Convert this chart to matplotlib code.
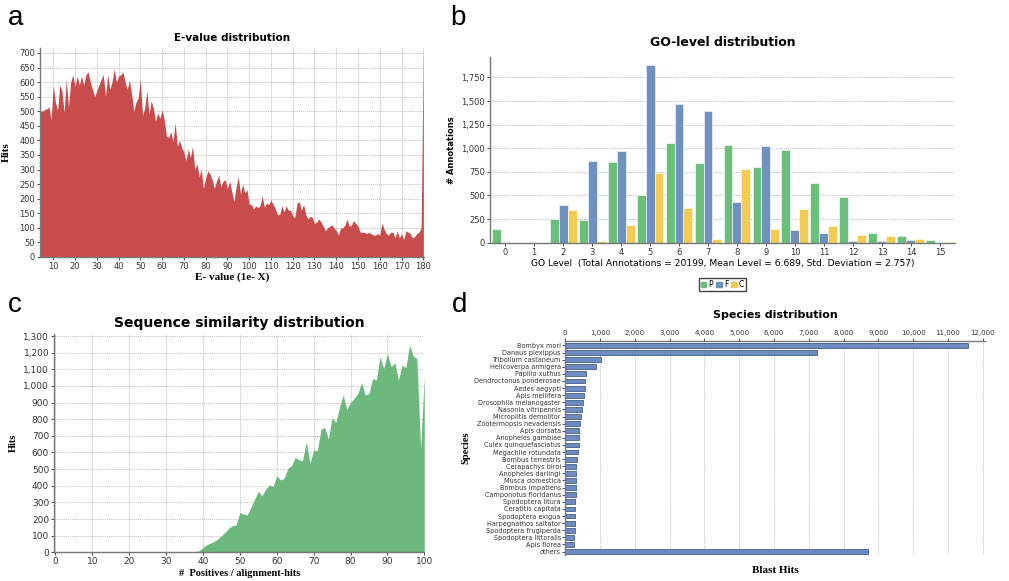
import matplotlib
matplotlib.use("Agg")
import matplotlib.pyplot as plt
from matplotlib.ticker import FuncFormatter
from matplotlib.patches import Patch
import numpy as np

# a: E-value distribution
evalue_x = list(range(4, 181))
evalue_hits = [502, 500, 505, 508, 515, 470, 590, 530, 505, 590, 570, 495, 610, 515, 600, 625,
               585, 620, 590, 620, 590, 625, 635, 600, 575, 550, 570, 590, 610, 625, 550, 625,
               575, 600, 645, 600, 620, 625, 635, 600, 575, 605, 560, 500, 530, 545, 610, 485,
               510, 570, 490, 535, 510, 465, 495, 475, 505, 470, 415, 410, 430, 395, 460, 380,
               400, 375, 360, 330, 370, 340, 380, 300, 320, 275, 300, 235, 270, 295, 285, 265,
               235, 260, 280, 240, 260, 265, 235, 260, 225, 190, 240, 275, 215, 250, 220, 230,
               180, 180, 165, 175, 170, 175, 210, 170, 185, 180, 195, 180, 165, 145, 145, 175,
               155, 175, 160, 160, 140, 135, 185, 190, 160, 180, 145, 130, 140, 135, 115, 120,
               130, 120, 105, 90, 100, 105, 110, 100, 90, 75, 100, 100, 110, 130, 105, 110,
               125, 115, 105, 85, 85, 85, 80, 85, 80, 75, 75, 80, 75, 115, 95, 80,
               75, 85, 85, 65, 90, 65, 80, 60, 90, 85, 80, 65, 70, 80, 85, 100, 715]

# b: GO-level distribution
go_levels = list(range(16))
go_P = [150, 0, 250, 235, 855, 500, 1060, 840, 1040, 800, 980, 635, 480, 100, 75, 30]
go_F = [0, 0, 400, 870, 970, 1880, 1470, 1400, 430, 1020, 130, 100, 20, 20, 30, 0]
go_C = [0, 0, 345, 20, 185, 735, 365, 40, 780, 145, 355, 175, 85, 75, 40, 5]

# c: sequence similarity distribution
sim_x = list(range(36, 101))
sim_hits = [0, 0, 5, 10, 30, 45, 55, 65, 80, 100, 120, 145, 160, 165, 240, 230, 225, 270,
            320, 365, 340, 380, 405, 395, 460, 435, 445, 505, 520, 570, 555, 550, 665, 535,
            615, 610, 740, 750, 680, 810, 780, 870, 945, 860, 900, 925, 955, 1020, 945, 955,
            1045, 1035, 1175, 1105, 1195, 1115, 1140, 1035, 1125, 1110, 1245, 1180, 1165, 620, 1060]

# d: species distribution
species = ["Bombyx mori", "Danaus plexippus", "Tribolium castaneum", "Helicoverpa armigera",
           "Papilio xuthus", "Dendroctonus ponderosae", "Aedes aegypti", "Apis mellifera",
           "Drosophila melanogaster", "Nasonia vitripennis", "Microplitis demolitor",
           "Zootermopsis nevadensis", "Apis dorsata", "Anopheles gambiae",
           "Culex quinquefasciatus", "Megachile rotundata", "Bombus terrestris",
           "Cerapachys biroi", "Anopheles darlingi", "Musca domestica", "Bombus impatiens",
           "Camponotus floridanus", "Spodoptera litura", "Ceratitis capitata",
           "Spodoptera exigua", "Harpegnathos saltator", "Spodoptera frugiperda",
           "Spodoptera littoralis", "Apis florea", "others"]
species_hits = [11580, 7240, 1040, 900, 590, 570, 560, 540, 520, 500, 460, 430, 410, 405,
                390, 370, 330, 328, 320, 318, 316, 314, 300, 298, 296, 294, 285, 268, 265, 8700]

comma = FuncFormatter(lambda v, p: "{:,.0f}".format(v))
grid_kw = dict(color="#bdbdbd", linestyle=(0, (1, 1)), linewidth=0.7)
serif = ["Liberation Serif", "DejaVu Serif"]

fig = plt.figure(figsize=(10.09, 5.81), dpi=100)

def style(ax):
    ax.tick_params(labelsize=6, length=2, width=0.6, colors="#333333", pad=1.5)
    for s in ax.spines.values():
        s.set_color("#777777")
        s.set_linewidth(1.0)
    ax.set_axisbelow(True)

# ---- a ----
ax = fig.add_axes([0.0396, 0.5577, 0.3806, 0.3602])
ax.fill_between(evalue_x, evalue_hits, color="#c94c4c", linewidth=0)
ax.set_xlim(3.9, 180.3)
ax.set_ylim(0, 718)
ax.set_xticks(range(10, 181, 10))
ax.set_yticks(range(0, 701, 50))
ax.grid(True, **grid_kw)
style(ax)
ax.spines["top"].set_visible(False)
ax.spines["right"].set_visible(False)
ax.set_title("E-value distribution", fontsize=7.5, fontweight="bold", pad=5)
ax.set_xlabel("E- value (1e- X)", fontsize=8, fontweight="bold", family=serif, labelpad=1)
ax.set_ylabel("Hits", fontsize=8, fontweight="bold", family=serif, labelpad=6)

# ---- b ----
ax = fig.add_axes([0.4856, 0.5823, 0.4609, 0.3201])
x = np.array(go_levels)
w = 0.31
ax.bar(x - w, go_P, w, color="#6bbf7a", edgecolor="#e8f5ea", linewidth=0.6, label="P")
ax.bar(x, go_F, w, color="#7090c0", edgecolor="#e6ecf6", linewidth=0.6, label="F")
ax.bar(x + w, go_C, w, color="#f2cb55", edgecolor="#fdf4d8", linewidth=0.6, label="C")
ax.set_xlim(-0.52, 15.52)
ax.set_ylim(0, 1970)
ax.set_xticks(go_levels)
ax.set_yticks(range(0, 1751, 250))
ax.yaxis.set_major_formatter(comma)
ax.yaxis.grid(True, **grid_kw)
style(ax)
ax.spines["top"].set_visible(False)
ax.spines["right"].set_visible(False)
ax.set_title("GO-level distribution", fontsize=9, fontweight="bold", pad=8)
ax.set_xlabel("GO Level  (Total Annotations = 20199, Mean Level = 6.689, Std. Deviation = 2.757)",
              fontsize=6.6, labelpad=2)
ax.set_ylabel("# Annotations", fontsize=6, fontweight="bold", labelpad=4)
ax.legend(handles=[Patch(color="#6bbf7a", label="P"), Patch(color="#7090c0", label="F"),
                   Patch(color="#f2cb55", label="C")],
          loc="upper center", bbox_to_anchor=(0.5, -0.17), ncol=3, fontsize=5.5,
          handlelength=0.7, handleheight=0.7, handletextpad=0.3, columnspacing=0.4,
          borderpad=0.25, fancybox=False, edgecolor="#444444", framealpha=1)

# ---- c ----
ax = fig.add_axes([0.0535, 0.0494, 0.367, 0.3757])
ax.fill_between(sim_x, sim_hits, color="#6db87d", linewidth=0)
ax.set_xlim(-0.4, 100)
ax.set_ylim(0, 1312)
ax.set_xticks(range(0, 101, 10))
ax.set_yticks(range(0, 1301, 100))
ax.yaxis.set_major_formatter(comma)
ax.grid(True, **grid_kw)
style(ax)
ax.tick_params(labelsize=6.5)
ax.spines["top"].set_visible(False)
ax.spines["right"].set_visible(False)
ax.set_title("Sequence similarity distribution", fontsize=10, fontweight="bold", pad=5)
ax.set_xlabel("#  Positives / alignment-hits", fontsize=7.5, fontweight="bold", family=serif, labelpad=2)
ax.set_ylabel("Hits", fontsize=7.5, fontweight="bold", family=serif, labelpad=4)

# ---- d ----
ax = fig.add_axes([0.56, 0.0448, 0.4162, 0.3688])
ypos = np.arange(len(species))
ax.barh(ypos, species_hits, height=0.68, color="#6e8cc0", edgecolor="#3f5d8f", linewidth=0.6)
ax.set_yticks(ypos)
ax.set_yticklabels(species)
ax.set_ylim(len(species) - 0.52, -0.67)
ax.set_xlim(0, 12060)
ax.set_xticks(range(0, 12001, 1000))
ax.xaxis.set_major_formatter(comma)
ax.xaxis.tick_top()
ax.xaxis.grid(True, **grid_kw)
style(ax)
ax.tick_params(axis="y", labelsize=4.7, pad=1)
ax.tick_params(axis="x", labelsize=5)
ax.spines["bottom"].set_visible(False)
ax.spines["right"].set_visible(False)
ax.set_title("Species distribution", fontsize=8, fontweight="bold", pad=16)
ax.set_xlabel("Blast Hits", fontsize=8, fontweight="bold", family=serif, labelpad=8)
ax.set_ylabel("Species", fontsize=7.5, fontweight="bold", family=serif, labelpad=3)

# panel letters
for letter, px, py in [("a", 16, 18), ("b", 458, 18), ("c", 15, 305), ("d", 460, 305)]:
    fig.text(px / 1009, 1 - py / 581, letter, fontsize=20, family="Liberation Sans",
             ha="center", va="center")

fig.savefig("out.png", dpi=100)
